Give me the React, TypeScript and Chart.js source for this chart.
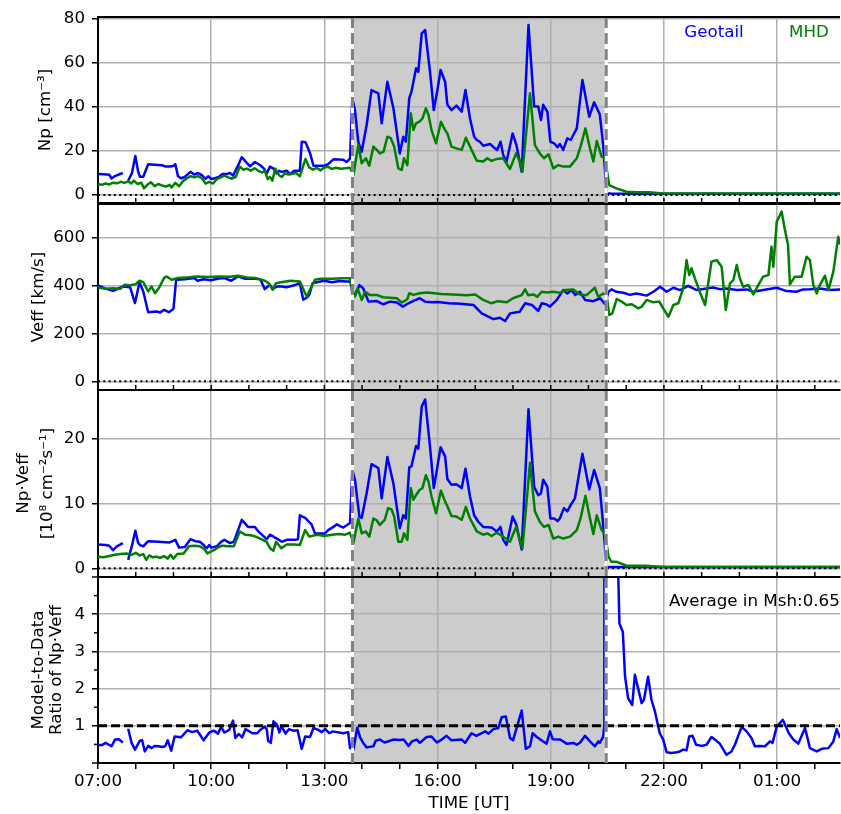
import React, { useEffect, useRef } from 'react';
import { Chart, registerables } from 'chart.js';

Chart.register(...registerables);
Chart.defaults.font.family = "'DejaVu Sans', sans-serif";
Chart.defaults.font.size = 16.7;
Chart.defaults.color = '#000';

type Pt = [number, number | null];

// ---------- axis / tick data ----------
const X_MIN = 7;
const X_MAX = 26 + 40 / 60;
const SHADE_START = 13.745;
const SHADE_END = 20.47;
const hourTicks = [7, 8, 9, 10, 11, 12, 13, 14, 15, 16, 17, 18, 19, 20, 21, 22, 23, 24, 25, 26];
const labelHours = [7, 10, 13, 16, 19, 22, 25];
const npTicks = [0, 20, 40, 60, 80];
const vTicks = [0, 200, 400, 600];
const fluxTicks = [0, 10, 20];
const ratioTicks = [1, 2, 3, 4];
const ratioMinorTicks = [0, 0.5, 1.5, 2.5, 3.5, 4.5, 5];
const legendLabels = ['Geotail', 'MHD'];
const averageText = 'Average in Msh:0.65';

// ---------- series (time in hours UT, values) ----------
const geoNp: Pt[] = [
  [7.0, 9.5], [7.15, 9.4], [7.3, 9.2], [7.36, 7.5], [7.45, 8.6], [7.55, 9.3], [7.66, 10], [7.72, null],
  [7.8, 6.5], [7.9, 10], [7.99, 17.7], [8.06, 11], [8.11, 8.3], [8.2, 8.3], [8.33, 14], [8.5, 13.8],
  [8.7, 13.5], [8.8, 12.9], [8.9, 13], [9.0, 13.2], [9.05, 14], [9.12, 8.5], [9.2, 7.6], [9.3, 8.2],
  [9.45, 10.5], [9.55, 9.3], [9.65, 10], [9.75, 9.0], [9.85, 7.3], [9.92, 8.5], [10.0, 7.3], [10.1, 7.6],
  [10.2, 8.2], [10.3, 9.6], [10.4, 9.5], [10.5, 10], [10.58, 8.8], [10.7, 13], [10.81, 17.2], [10.95, 14.5],
  [11.03, 13], [11.16, 15], [11.3, 13.5], [11.4, 12], [11.47, 9.8], [11.56, 12.9], [11.65, 12], [11.74, 9.8],
  [11.8, 11], [11.87, 10.5], [12.0, 11], [12.1, 9.5], [12.2, 11], [12.35, 11], [12.4, 24.2], [12.5, 24],
  [12.62, 19], [12.71, 13.3], [12.8, 13.3], [13.0, 13.3], [13.1, 14], [13.24, 16.2], [13.5, 16], [13.59, 15],
  [13.68, 16.5], [13.74, 44], [13.81, 38.6], [13.9, 24], [13.99, 19.7], [14.12, 31.8], [14.25, 47.7],
  [14.43, 46.2], [14.52, 32.6], [14.67, 51.5], [14.83, 39.4], [15.0, 18.9], [15.09, 26.5], [15.16, 24.2],
  [15.25, 44], [15.31, 47], [15.43, 57.6], [15.49, 56], [15.58, 73.5], [15.67, 75], [15.8, 56], [15.9, 38.6],
  [15.99, 47], [16.08, 56.8], [16.2, 51.5], [16.26, 41], [16.37, 38.6], [16.5, 40.6], [16.64, 37.9],
  [16.74, 47.7], [16.86, 34.8], [16.97, 26.5], [17.04, 25], [17.12, 24.2], [17.21, 22.4], [17.39, 23.2],
  [17.52, 21.2], [17.58, 20.5], [17.67, 24.2], [17.74, 18.2], [17.83, 15.2], [17.99, 28], [18.09, 22.7],
  [18.23, 10.6], [18.41, 77.3], [18.56, 40.2], [18.67, 40.2], [18.74, 34.1], [18.8, 41], [18.91, 37.9],
  [18.99, 24.2], [19.09, 23.5], [19.18, 21.7], [19.24, 23.2], [19.33, 20.5], [19.44, 25.8], [19.53, 25],
  [19.69, 30.3], [19.84, 52.3], [20.02, 35.6], [20.15, 42.1], [20.3, 36.7], [20.39, 22.7], [20.48, 0.8],
  [20.6, 0.7], [21.0, 0.6], [21.5, 0.6], [22.0, 0.6], [23.0, 0.6], [24.0, 0.6], [25.0, 0.6], [26.0, 0.6], [26.67, 0.6],
];

const mhdNp: Pt[] = [
  [7.0, 5.0], [7.1, 4.6], [7.2, 5.2], [7.3, 4.8], [7.4, 5.6], [7.5, 5.3], [7.6, 6.0], [7.7, 5.5], [7.8, 6.2],
  [7.88, 5.2], [7.95, 6.5], [8.05, 5.0], [8.15, 5.6], [8.22, 3.0], [8.3, 4.5], [8.4, 5.8], [8.5, 4.0],
  [8.6, 5.0], [8.7, 4.3], [8.8, 3.8], [8.9, 4.6], [8.95, 3.4], [9.05, 5.5], [9.15, 4.0], [9.25, 6.2],
  [9.35, 7.5], [9.45, 8.5], [9.55, 8.0], [9.65, 8.6], [9.75, 7.6], [9.85, 5.2], [9.95, 6.0], [10.05, 5.2],
  [10.15, 7.2], [10.25, 8.0], [10.35, 8.8], [10.45, 8.0], [10.55, 7.4], [10.65, 8.2], [10.76, 12.9],
  [10.85, 11.5], [10.95, 12], [11.05, 11], [11.15, 12.2], [11.25, 11], [11.35, 10.2], [11.42, 11],
  [11.5, 7.2], [11.56, 8.2], [11.62, 6.5], [11.7, 12], [11.8, 9], [11.87, 8.2], [11.95, 9.8], [12.05, 9.3],
  [12.15, 9.6], [12.25, 10], [12.35, 8.5], [12.5, 16.4], [12.6, 12.5], [12.7, 11.5], [12.8, 12.3],
  [12.9, 11.2], [13.0, 12.5], [13.1, 12.8], [13.2, 11.8], [13.3, 12.4], [13.45, 11.9], [13.55, 12.2],
  [13.68, 12.4], [13.77, 9.1], [13.9, 22.7], [13.99, 14.4], [14.1, 16.7], [14.19, 13.3], [14.3, 22],
  [14.39, 20.5], [14.47, 18.9], [14.57, 19.7], [14.67, 26.5], [14.76, 25.8], [14.85, 22], [14.96, 12.1],
  [15.05, 11.4], [15.11, 16.7], [15.2, 13.6], [15.29, 37.1], [15.36, 29.5], [15.43, 32.6], [15.52, 33.3],
  [15.6, 34.8], [15.69, 39.4], [15.76, 36.4], [15.84, 29.5], [15.96, 23.5], [16.09, 33.3], [16.2, 29.5],
  [16.26, 28], [16.37, 22], [16.5, 21.2], [16.64, 20.5], [16.75, 26], [16.86, 22], [17.04, 15.6],
  [17.21, 15.2], [17.32, 16.7], [17.43, 15.5], [17.57, 16.4], [17.74, 16.7], [17.92, 11.8], [18.08, 18.9],
  [18.18, 15.2], [18.25, 10.6], [18.45, 46.2], [18.58, 22.7], [18.71, 18.9], [18.82, 16.7], [18.94, 18.5],
  [19.07, 12.1], [19.2, 13.6], [19.33, 12.9], [19.51, 12.9], [19.69, 16.7], [19.79, 22], [19.92, 30.3],
  [20.04, 21.2], [20.13, 15.2], [20.22, 24.5], [20.35, 17.4], [20.44, 16.7], [20.48, 12.1], [20.55, 4.5],
  [20.74, 3.0], [21.01, 1.5], [21.3, 1.3], [21.62, 1.2], [21.97, 0.7], [23.0, 0.7], [24.0, 0.7],
  [25.0, 0.7], [26.0, 0.7], [26.67, 0.7],
];

const geoV: Pt[] = [
  [7.0, 400], [7.2, 386], [7.4, 377], [7.66, 395], [7.85, 392], [7.98, 326], [8.1, 413], [8.2, 374],
  [8.33, 288], [8.55, 291], [8.65, 287], [8.75, 298], [8.88, 288], [9.0, 302], [9.07, 423], [9.3, 425],
  [9.55, 430], [9.64, 419], [9.8, 425], [9.99, 421], [10.2, 428], [10.35, 430], [10.53, 419], [10.71, 437],
  [10.9, 427], [11.1, 428], [11.3, 425], [11.42, 384], [11.5, 395], [11.56, 402], [11.63, 385], [11.75, 395],
  [11.86, 395], [12.0, 392], [12.2, 400], [12.35, 409], [12.44, 340], [12.52, 347], [12.6, 360], [12.69, 409],
  [12.8, 413], [13.0, 419], [13.2, 413], [13.4, 418], [13.6, 416], [13.68, 416], [13.72, 394], [13.74, 360],
  [13.81, 355], [13.93, 401], [14.03, 387], [14.17, 332], [14.38, 335], [14.56, 321], [14.74, 332],
  [14.92, 328], [15.08, 311], [15.23, 325], [15.36, 335], [15.53, 346], [15.67, 332], [15.84, 329],
  [16.0, 330], [16.3, 325], [16.6, 323], [16.95, 318], [17.17, 283], [17.48, 259], [17.65, 265],
  [17.79, 251], [17.92, 283], [18.18, 290], [18.32, 325], [18.5, 318], [18.67, 293], [18.76, 325],
  [18.88, 321], [18.98, 311], [19.16, 339], [19.33, 380], [19.44, 366], [19.55, 380], [19.65, 360],
  [19.77, 373], [19.91, 339], [20.13, 334], [20.31, 346], [20.44, 321], [20.53, 373], [20.61, 383],
  [20.74, 373], [20.92, 369], [21.1, 360], [21.27, 366], [21.54, 357], [21.72, 373], [21.9, 394],
  [22.07, 373], [22.25, 390], [22.43, 380], [22.64, 398], [22.87, 380], [23.13, 387], [23.3, 391],
  [23.48, 384], [23.66, 387], [23.93, 380], [24.2, 383], [24.37, 373], [24.63, 380], [24.99, 390],
  [25.25, 376], [25.51, 373], [25.69, 383], [25.87, 384], [26.13, 387], [26.4, 380], [26.67, 383],
];

const mhdV: Pt[] = [
  [7.0, 391], [7.2, 386], [7.4, 388], [7.6, 386], [7.7, 402], [7.85, 400], [8.0, 405], [8.1, 419],
  [8.2, 413], [8.33, 374], [8.42, 395], [8.51, 367], [8.62, 390], [8.75, 430], [8.82, 437], [8.95, 423],
  [9.1, 430], [9.3, 432], [9.6, 437], [9.9, 435], [10.2, 437], [10.5, 436], [10.71, 440], [10.95, 433],
  [11.18, 430], [11.42, 419], [11.52, 409], [11.63, 381], [11.72, 409], [11.86, 413], [12.1, 419],
  [12.35, 416], [12.53, 353], [12.66, 395], [12.75, 423], [12.9, 427], [13.2, 427], [13.5, 429],
  [13.68, 429], [13.72, 401], [13.79, 353], [13.88, 387], [13.99, 339], [14.08, 373], [14.2, 360],
  [14.38, 360], [14.56, 350], [14.92, 346], [15.05, 328], [15.2, 342], [15.25, 367], [15.36, 360],
  [15.53, 367], [15.71, 370], [15.8, 369], [16.1, 364], [16.4, 362], [16.77, 359], [17.0, 362],
  [17.21, 339], [17.43, 325], [17.6, 334], [17.83, 329], [18.0, 346], [18.23, 359], [18.32, 383],
  [18.4, 359], [18.55, 362], [18.64, 352], [18.76, 373], [18.9, 370], [19.07, 373], [19.25, 369],
  [19.38, 380], [19.6, 383], [19.77, 362], [19.95, 359], [20.17, 390], [20.26, 352], [20.39, 366],
  [20.48, 359], [20.55, 276], [20.63, 283], [20.75, 343], [20.88, 332], [21.01, 318], [21.15, 321],
  [21.32, 304], [21.41, 311], [21.54, 339], [21.72, 329], [21.88, 332], [21.98, 304], [22.12, 269],
  [22.25, 318], [22.38, 325], [22.51, 387], [22.6, 505], [22.67, 443], [22.73, 471], [22.82, 429],
  [22.95, 373], [23.09, 318], [23.18, 415], [23.26, 498], [23.4, 505], [23.53, 477], [23.64, 297],
  [23.75, 408], [23.84, 422], [23.93, 485], [24.01, 429], [24.1, 394], [24.24, 401], [24.37, 362],
  [24.5, 401], [24.63, 436], [24.77, 443], [24.85, 561], [24.9, 477], [24.99, 665], [25.12, 707],
  [25.2, 637], [25.29, 568], [25.34, 404], [25.47, 436], [25.65, 436], [25.78, 519], [25.87, 505],
  [25.96, 401], [26.05, 366], [26.13, 401], [26.27, 440], [26.36, 380], [26.49, 457], [26.62, 602],
  [26.67, 570],
];

const geoFlux: Pt[] = [
  [7.0, 3.7], [7.2, 3.6], [7.3, 3.5], [7.4, 2.8], [7.5, 3.4], [7.66, 3.9], [7.72, null], [7.8, 1.3],
  [7.9, 3.5], [7.99, 5.8], [8.06, 4.0], [8.11, 3.6], [8.2, 3.4], [8.33, 4.2], [8.6, 4.1], [8.9, 4.0],
  [9.05, 4.4], [9.15, 3.2], [9.3, 3.3], [9.45, 4.5], [9.58, 4.2], [9.7, 4.1], [9.8, 3.6], [9.88, 3.1],
  [9.95, 3.6], [10.0, 3.2], [10.15, 3.4], [10.26, 4.1], [10.35, 4.4], [10.5, 3.9], [10.6, 4.1],
  [10.81, 7.5], [10.98, 6.4], [11.16, 6.4], [11.25, 5.7], [11.47, 4.5], [11.56, 5.2], [11.74, 4.6],
  [11.87, 4.1], [12.0, 4.4], [12.2, 4.4], [12.3, 4.5], [12.35, 8.2], [12.49, 7.8], [12.66, 6.8],
  [12.75, 5.4], [13.02, 5.4], [13.1, 5.9], [13.24, 6.4], [13.33, 6.8], [13.5, 6.3], [13.68, 7.0],
  [13.74, 15.2], [13.81, 13.7], [13.93, 8.0], [13.99, 7.8], [14.12, 11.6], [14.25, 16.1], [14.43, 15.5],
  [14.52, 10.8], [14.67, 17.2], [14.83, 13.1], [15.0, 6.2], [15.09, 8.2], [15.16, 7.7], [15.25, 15.6],
  [15.31, 15.8], [15.43, 18.9], [15.49, 18.5], [15.58, 25], [15.67, 26.1], [15.8, 18.8], [15.9, 12.4],
  [15.99, 15.5], [16.08, 18.7], [16.2, 17.3], [16.26, 13.8], [16.37, 12.9], [16.5, 13.0], [16.64, 12.4],
  [16.74, 15.4], [16.86, 11.1], [16.97, 8.2], [17.08, 7.2], [17.21, 6.4], [17.43, 6.3], [17.57, 5.7],
  [17.67, 6.4], [17.74, 4.4], [17.83, 3.6], [17.99, 8.0], [18.09, 6.7], [18.23, 2.9], [18.41, 24.6],
  [18.56, 12.6], [18.67, 11.3], [18.74, 11.6], [18.8, 13.7], [18.91, 12.6], [18.99, 7.7], [19.09, 7.7],
  [19.18, 7.3], [19.24, 7.7], [19.35, 9.3], [19.44, 8.8], [19.53, 9.8], [19.64, 10.8], [19.84, 17.7],
  [20.02, 12.2], [20.15, 15.2], [20.3, 12.4], [20.39, 6.7], [20.48, 0.26], [20.6, 0.2], [21.5, 0.2],
  [22.5, 0.2], [23.5, 0.2], [24.5, 0.2], [25.5, 0.2], [26.67, 0.2],
];

const mhdFlux: Pt[] = [
  [7.0, 1.8], [7.15, 1.7], [7.3, 1.9], [7.45, 2.1], [7.6, 2.2], [7.75, 2.3], [7.9, 2.1], [8.0, 2.4],
  [8.1, 2.0], [8.2, 2.2], [8.28, 1.3], [8.36, 2.0], [8.45, 1.7], [8.55, 1.8], [8.65, 1.6], [8.75, 1.9],
  [8.85, 1.5], [8.92, 2.1], [9.0, 1.5], [9.1, 2.2], [9.27, 2.3], [9.41, 3.4], [9.55, 3.5], [9.7, 3.4],
  [9.8, 3.1], [9.9, 2.3], [10.0, 2.6], [10.07, 2.8], [10.2, 3.3], [10.3, 3.5], [10.45, 3.4], [10.6, 3.4],
  [10.76, 5.7], [10.9, 5.2], [11.05, 5.1], [11.18, 4.9], [11.3, 4.6], [11.47, 4.1], [11.56, 3.1],
  [11.65, 2.7], [11.72, 4.1], [11.86, 3.1], [12.0, 3.7], [12.2, 3.7], [12.35, 3.6], [12.49, 5.9],
  [12.6, 4.9], [12.8, 5.2], [13.0, 5.0], [13.2, 5.2], [13.4, 5.3], [13.55, 5.2], [13.68, 5.5],
  [13.77, 3.9], [13.9, 7.7], [13.99, 5.4], [14.1, 5.7], [14.19, 4.9], [14.3, 7.7], [14.39, 7.4],
  [14.47, 6.7], [14.6, 7.5], [14.69, 9.3], [14.78, 9.1], [14.85, 8.0], [14.96, 4.1], [15.05, 4.1],
  [15.11, 5.4], [15.2, 4.4], [15.29, 12.4], [15.36, 10.6], [15.43, 11.3], [15.52, 12.1], [15.6, 12.4],
  [15.69, 14.4], [15.76, 13.4], [15.84, 11.1], [15.96, 8.5], [16.09, 12.0], [16.2, 10.3], [16.26, 9.6],
  [16.37, 8.1], [16.5, 8.0], [16.64, 7.5], [16.75, 9.5], [16.86, 7.7], [17.04, 5.7], [17.21, 5.2],
  [17.32, 5.4], [17.43, 5.0], [17.57, 5.5], [17.74, 4.9], [17.92, 4.1], [18.08, 6.4], [18.18, 4.4],
  [18.25, 3.1], [18.45, 16.3], [18.58, 8.8], [18.71, 7.2], [18.82, 6.4], [18.94, 6.7], [19.07, 4.6],
  [19.2, 4.9], [19.33, 4.6], [19.51, 4.9], [19.69, 5.9], [19.79, 7.7], [19.92, 11.2], [20.04, 7.7],
  [20.13, 5.3], [20.22, 8.2], [20.35, 5.9], [20.44, 5.4], [20.53, 1.8], [20.61, 1.0], [20.75, 1.0],
  [21.01, 0.4], [21.5, 0.4], [21.98, 0.2], [23.0, 0.2], [24.0, 0.2], [25.0, 0.2], [26.0, 0.2], [26.67, 0.2],
];

const ratio: Pt[] = [
  [7.0, 0.49], [7.1, 0.48], [7.2, 0.54], [7.36, 0.45], [7.45, 0.63], [7.55, 0.64], [7.66, 0.55],
  [7.72, null], [7.8, 0.92], [7.89, 0.54], [7.98, 0.36], [8.11, 0.6], [8.17, 0.61], [8.24, 0.31],
  [8.33, 0.46], [8.42, 0.4], [8.5, 0.46], [8.6, 0.45], [8.7, 0.43], [8.78, 0.45], [8.85, 0.61],
  [8.94, 0.33], [9.03, 0.71], [9.2, 0.69], [9.37, 0.88], [9.5, 0.83], [9.63, 0.87], [9.8, 0.61],
  [9.95, 0.82], [10.07, 0.87], [10.18, 0.79], [10.26, 0.97], [10.35, 0.82], [10.48, 0.89], [10.58, 1.14],
  [10.64, 0.67], [10.73, 0.78], [10.82, 0.69], [10.91, 0.91], [11.09, 0.8], [11.22, 0.8], [11.3, 0.89],
  [11.42, 0.98], [11.47, 0.91], [11.51, 0.6], [11.58, 0.54], [11.65, 1.12], [11.74, 1.03], [11.81, 0.82],
  [11.86, 1.0], [11.97, 0.79], [12.06, 0.91], [12.18, 0.87], [12.29, 0.88], [12.4, 0.38], [12.49, 0.71],
  [12.62, 0.7], [12.71, 0.94], [12.84, 0.89], [12.93, 0.83], [13.02, 0.92], [13.13, 0.8], [13.22, 0.85],
  [13.5, 0.8], [13.63, 0.83], [13.68, 0.4], [13.77, 0.36], [13.87, 0.95], [13.95, 0.68], [14.03, 0.54],
  [14.12, 0.42], [14.3, 0.45], [14.36, 0.6], [14.47, 0.63], [14.6, 0.55], [14.83, 0.63], [15.0, 0.62],
  [15.1, 0.63], [15.23, 0.46], [15.32, 0.58], [15.45, 0.63], [15.53, 0.54], [15.71, 0.7], [15.84, 0.71],
  [15.98, 0.55], [16.11, 0.63], [16.24, 0.73], [16.37, 0.61], [16.64, 0.63], [16.73, 0.54], [16.9, 0.8],
  [17.03, 0.73], [17.17, 0.8], [17.26, 0.85], [17.35, 0.79], [17.48, 0.91], [17.61, 0.94], [17.7, 1.23],
  [17.81, 1.25], [17.92, 0.67], [18.0, 0.61], [18.23, 1.41], [18.34, 0.38], [18.45, 0.45], [18.52, 0.8],
  [18.63, 0.7], [18.8, 0.58], [18.89, 0.52], [18.98, 0.85], [19.05, 0.64], [19.25, 0.63], [19.42, 0.52],
  [19.6, 0.54], [19.69, 0.49], [19.78, 0.55], [19.91, 0.73], [20.04, 0.58], [20.17, 0.45], [20.26, 0.58],
  [20.3, 0.54], [20.39, 0.71], [20.42, 1.0], [20.45, 60], [20.6, 40], [20.72, 8], [20.82, 3.75],
  [20.91, 3.53], [20.97, 2.32], [21.05, 1.74], [21.16, 1.56], [21.23, 2.37], [21.41, 1.61], [21.47, 1.7],
  [21.58, 2.32], [21.67, 1.7], [21.76, 1.39], [21.89, 0.8], [21.98, 0.63], [22.07, 0.29], [22.2, 0.27],
  [22.34, 0.29], [22.42, 0.31], [22.51, 0.36], [22.6, 0.34], [22.67, 0.71], [22.76, 0.73], [22.85, 0.49],
  [23.0, 0.46], [23.13, 0.49], [23.26, 0.7], [23.35, 0.63], [23.48, 0.52], [23.66, 0.22], [23.79, 0.31],
  [23.88, 0.49], [24.06, 0.97], [24.19, 0.85], [24.32, 0.67], [24.41, 0.45], [24.54, 0.46], [24.68, 0.45],
  [24.81, 0.58], [24.88, 0.54], [24.99, 0.98], [25.15, 1.16], [25.31, 0.8], [25.43, 0.63], [25.56, 0.52],
  [25.74, 0.94], [25.87, 0.4], [26.05, 0.31], [26.18, 0.38], [26.36, 0.4], [26.49, 0.58], [26.58, 0.91],
  [26.67, 0.67],
];

// ---------- styling ----------
const BLUE = '#0000ff';
const GREEN = '#008000';
const GRID = '#b0b0b0';
const SHADE = '#cccccc';
const FS = 16.7;
const W = 841;
const H = 814;

type Series = { data: Pt[]; color: string; order: number };
type Panel = {
  top: number;
  bottom: number;
  min: number;
  max: number;
  ticks: number[];
  title: string | string[];
  titlePad: number;
  titleLH: number;
  series: Series[];
  last: boolean;
  ref: 'zero' | 'one';
  legend?: boolean;
  note?: boolean;
};

const PANELS: Panel[] = [
  {
    top: 17, bottom: 203, min: -3.64, max: 80.9, ticks: npTicks, title: 'Np [cm⁻³]', titlePad: 36, titleLH: 1.2,
    series: [{ data: geoNp, color: BLUE, order: 1 }, { data: mhdNp, color: GREEN, order: 0 }],
    last: false, ref: 'zero', legend: true,
  },
  {
    top: 204, bottom: 390, min: -36.25, max: 738.75, ticks: vTicks, title: 'Veff [km/s]', titlePad: 28.5, titleLH: 1.2,
    series: [{ data: geoV, color: BLUE, order: 1 }, { data: mhdV, color: GREEN, order: 0 }],
    last: false, ref: 'zero',
  },
  {
    top: 390, bottom: 577, min: -1.34, max: 27.56, ticks: fluxTicks, title: ['Np·Veff', '[10⁸ cm⁻²s⁻¹]'],
    titlePad: 11.5, titleLH: 1.45,
    series: [{ data: geoFlux, color: BLUE, order: 1 }, { data: mhdFlux, color: GREEN, order: 0 }],
    last: false, ref: 'zero',
  },
  {
    top: 577, bottom: 763, min: 0, max: 5, ticks: ratioTicks, title: ['Model-to-Data', 'Ratio of Np·Veff'],
    titlePad: 29, titleLH: 1.12,
    series: [{ data: ratio, color: BLUE, order: 0 }],
    last: true, ref: 'one', note: true,
  },
];

function hourLabel(v: number): string {
  if (!labelHours.includes(v)) return '';
  const h = ((v % 24) + 24) % 24;
  return (h < 10 ? '0' : '') + h + ':00';
}

function line(ctx: CanvasRenderingContext2D, x0: number, y0: number, x1: number, y1: number) {
  ctx.beginPath();
  ctx.moveTo(x0, y0);
  ctx.lineTo(x1, y1);
  ctx.stroke();
}

function panelPlugin(p: Panel, idx: number) {
  return {
    id: 'panelDecor' + idx,
    beforeDraw(chart: any) {
      const { ctx, chartArea: a, scales } = chart;
      const x = scales.x;
      const x0 = x.getPixelForValue(SHADE_START);
      const x1 = x.getPixelForValue(SHADE_END);
      ctx.save();
      ctx.fillStyle = SHADE;
      ctx.fillRect(x0, a.top, x1 - x0, a.bottom - a.top);
      ctx.restore();
    },
    afterDatasetsDraw(chart: any) {
      const { ctx, chartArea: a, scales } = chart;
      const x = scales.x;
      const y = scales.y;
      ctx.save();
      ctx.strokeStyle = '#000';
      if (p.ref === 'zero') {
        const y0 = y.getPixelForValue(0);
        ctx.lineWidth = 2;
        ctx.setLineDash([2, 3.3]);
        line(ctx, a.left, y0, a.right, y0);
      } else {
        const y1 = y.getPixelForValue(1);
        ctx.lineWidth = 3;
        ctx.setLineDash([9, 4]);
        line(ctx, a.left, y1, a.right, y1);
      }
      // boundaries of shaded interval
      for (const t of [SHADE_START, SHADE_END]) {
        const px = x.getPixelForValue(t);
        ctx.setLineDash([]);
        ctx.strokeStyle = '#ffffff';
        ctx.lineWidth = 3;
        line(ctx, px, a.top, px, a.bottom);
        ctx.setLineDash([11, 5]);
        ctx.strokeStyle = '#808080';
        line(ctx, px, a.top, px, a.bottom);
      }
      ctx.setLineDash([]);
      ctx.strokeStyle = '#000';
      // top spine
      ctx.lineWidth = 2;
      line(ctx, a.left - 1, a.top, a.right, a.top);
      // inward hour ticks at bottom for upper panels
      if (!p.last) {
        ctx.lineWidth = 1.5;
        for (const h of hourTicks) {
          const px = x.getPixelForValue(h);
          line(ctx, px, a.bottom, px, a.bottom - 5);
        }
      } else {
        ctx.lineWidth = 1.5;
        for (const v of ratioMinorTicks) {
          const py = y.getPixelForValue(v);
          const len = v === 0 || v === 5 ? 6 : 4;
          line(ctx, a.left, py, a.left - len, py);
        }
      }
      ctx.font = `${FS}px 'DejaVu Sans', sans-serif`;
      ctx.textBaseline = 'middle';
      if (p.legend) {
        ctx.textAlign = 'center';
        ctx.fillStyle = BLUE;
        ctx.fillText(legendLabels[0], 714, 33);
        ctx.fillStyle = GREEN;
        ctx.fillText(legendLabels[1], 809, 33);
      }
      if (p.note) {
        ctx.textAlign = 'left';
        ctx.fillStyle = '#000';
        ctx.fillText(averageText, 669, 602);
      }
      ctx.restore();
    },
  };
}

function makeConfig(p: Panel, idx: number): any {
  return {
    type: 'line',
    data: {
      datasets: p.series.map((s) => ({
        data: s.data.map(([xv, yv]) => ({ x: xv, y: yv })),
        borderColor: s.color,
        backgroundColor: s.color,
        borderWidth: 2.5,
        pointRadius: 0,
        tension: 0,
        spanGaps: false,
        fill: false,
        order: s.order,
        borderJoinStyle: 'round',
      })),
    },
    options: {
      responsive: false,
      animation: false,
      events: [],
      layout: { padding: { top: p.top, right: 1, left: 0, bottom: 0 } },
      plugins: { legend: { display: false }, tooltip: { enabled: false }, title: { display: false } },
      scales: {
        x: {
          type: 'linear',
          min: X_MIN,
          max: X_MAX,
          afterFit: (s: any) => { s.height = H - p.bottom; },
          afterBuildTicks: (s: any) => { s.ticks = hourTicks.map((v) => ({ value: v })); },
          grid: {
            color: (c: any) => (c.tick && labelHours.includes(c.tick.value) ? GRID : 'rgba(0,0,0,0)'),
            lineWidth: 1.5,
            drawTicks: p.last,
            tickLength: 6,
            tickColor: '#000',
            tickWidth: 1.5,
          },
          border: { display: true, color: '#000', width: 2 },
          ticks: {
            display: p.last,
            autoSkip: false,
            maxRotation: 0,
            minRotation: 0,
            padding: 3,
            color: '#000',
            font: { size: FS },
            callback: (v: number) => hourLabel(v),
          },
          title: { display: p.last, text: 'TIME [UT]', color: '#000', font: { size: FS }, padding: 0 },
        },
        y: {
          type: 'linear',
          min: p.min,
          max: p.max,
          afterFit: (s: any) => { s.width = 98; },
          afterBuildTicks: (s: any) => { s.ticks = p.ticks.map((v) => ({ value: v })); },
          grid: { color: GRID, lineWidth: 1.5, tickLength: 6, tickColor: '#000', tickWidth: 1.5 },
          border: { display: true, color: '#000', width: 2 },
          ticks: { color: '#000', font: { size: FS }, padding: 7, callback: (v: number) => String(v) },
          title: {
            display: true,
            text: p.title,
            color: '#000',
            font: { size: FS, lineHeight: p.titleLH },
            padding: { top: p.titlePad, bottom: 0 },
          },
        },
      },
    },
    plugins: [panelPlugin(p, idx)],
  };
}

export default function App() {
  const r0 = useRef<HTMLCanvasElement>(null);
  const r1 = useRef<HTMLCanvasElement>(null);
  const r2 = useRef<HTMLCanvasElement>(null);
  const r3 = useRef<HTMLCanvasElement>(null);
  const refs = [r0, r1, r2, r3];

  useEffect(() => {
    const charts = PANELS.map((p, i) => new Chart(refs[i].current as HTMLCanvasElement, makeConfig(p, i)));
    return () => charts.forEach((c) => c.destroy());
  }, []);

  return (
    <div style={{ position: 'absolute', left: 0, top: 0, width: W, height: H, background: '#fff' }}>
      {refs.map((r, i) => (
        <canvas
          key={i}
          ref={r}
          width={W}
          height={H}
          style={{ position: 'absolute', left: 0, top: 0, width: W, height: H }}
        />
      ))}
    </div>
  );
}
